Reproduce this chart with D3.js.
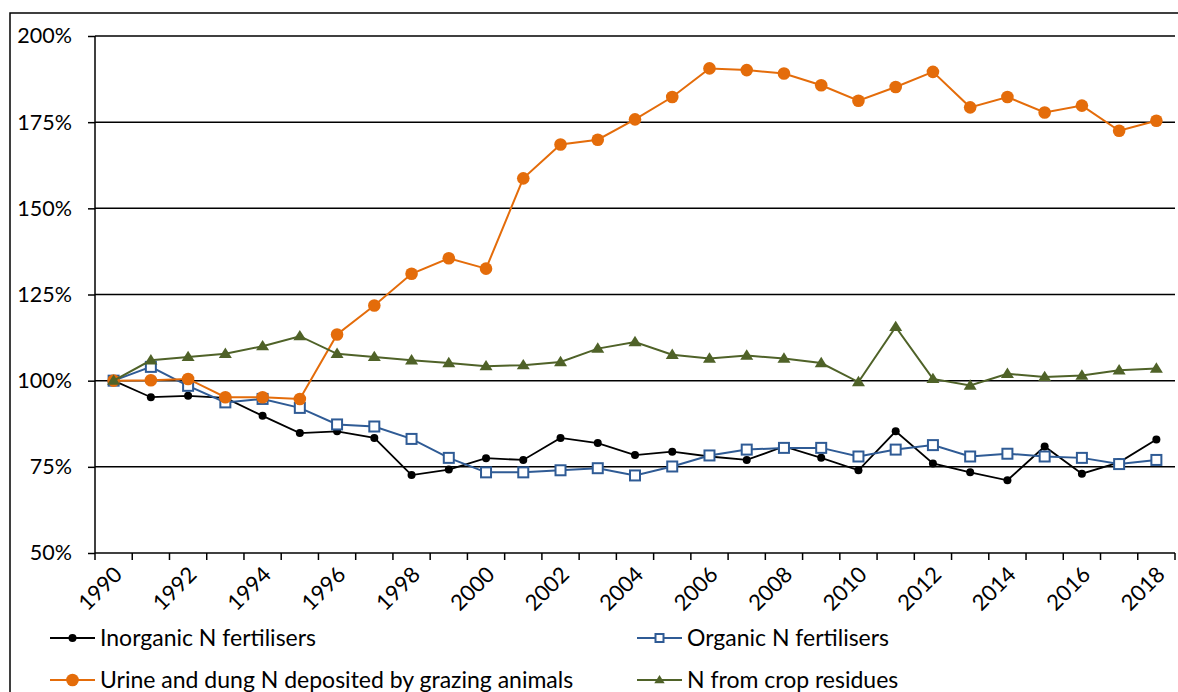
<!DOCTYPE html>
<html><head><meta charset="utf-8">
<script src="https://cdn.jsdelivr.net/npm/d3@7"></script>
<style>body{margin:0;background:#fff;overflow:hidden}svg{display:block}</style>
</head><body>
<svg id="chart" width="1178" height="692"></svg>
<script>
const years = d3.range(1990, 2019).map(String);
const yTicks = [50, 75, 100, 125, 150, 175, 200];
const xTickLabels = years.filter((d, i) => i % 2 === 0);
const seriesNames = ["Inorganic N fertilisers", "Organic N fertilisers", "Urine and dung N deposited by grazing animals", "N from crop residues"];
const inorganic = [100, 95.2, 95.6, 95.0, 89.8, 84.8, 85.3, 83.4, 72.6, 74.2, 77.5, 77.0, 83.4, 81.9, 78.4, 79.4, 78.0, 77.0, 80.9, 77.6, 74.0, 85.3, 76.0, 73.4, 71.1, 80.9, 73.0, 76.3, 82.9];
const organic = [100, 104.0, 98.5, 93.7, 94.7, 92.1, 87.3, 86.7, 83.1, 77.6, 73.4, 73.4, 74.0, 74.6, 72.5, 75.1, 78.3, 80.0, 80.5, 80.5, 78.0, 80.0, 81.3, 78.0, 78.8, 78.0, 77.6, 75.8, 77.0];
const urine = [100, 100.1, 100.5, 95.2, 95.2, 94.7, 113.4, 121.8, 131.0, 135.5, 132.5, 158.7, 168.5, 169.9, 175.8, 182.3, 190.6, 190.1, 189.1, 185.7, 181.2, 185.2, 189.6, 179.3, 182.3, 177.8, 179.8, 172.5, 175.4];
const residues = [100, 105.9, 106.9, 107.8, 110.0, 112.9, 107.8, 106.9, 105.9, 105.1, 104.2, 104.5, 105.4, 109.3, 111.2, 107.5, 106.4, 107.3, 106.4, 105.1, 99.6, 115.6, 100.5, 98.6, 102.0, 101.1, 101.5, 103.0, 103.5];

const FONT = "Lato, 'Open Sans', sans-serif";
const svg = d3.select("#chart");
const L = 95, R = 1175, T = 36, B = 553;

// outer border
svg.append("rect").attr("x", 10).attr("y", 13).attr("width", 1200).attr("height", 700)
  .attr("fill", "none").attr("stroke", "#000").attr("stroke-width", 1.5);

const x = d3.scaleBand().domain(years).range([L, R]).paddingInner(0).paddingOuter(0);
const cx = d => x(d) + x.bandwidth() / 2;
const y = d3.scaleLinear().domain([50, 200]).range([B, T]);

// gridlines
svg.append("g").selectAll("line").data(yTicks.filter(v => v > 50)).join("line")
  .attr("x1", L).attr("x2", R).attr("y1", d => y(d)).attr("y2", d => y(d))
  .attr("stroke", "#000").attr("stroke-width", 1.5);

// y axis
const yAxis = svg.append("g").attr("transform", `translate(${L},0)`)
  .call(d3.axisLeft(y).tickValues(yTicks).tickFormat(d => d + "%").tickSize(7).tickPadding(16));
yAxis.select(".domain").attr("stroke-width", 1.5).attr("d", `M0,${T}V${B}`);
yAxis.selectAll(".tick line").attr("stroke-width", 1.5);
yAxis.selectAll("text").attr("font-family", FONT).attr("font-size", 21.5).attr("fill", "#000");

// x axis: ticks at band boundaries
const xg = svg.append("g");
xg.append("line").attr("x1", L).attr("x2", R).attr("y1", B).attr("y2", B).attr("stroke", "#000").attr("stroke-width", 1.5);
xg.selectAll("line.tk").data(years.concat(["end"])).join("line").attr("class", "tk")
  .attr("x1", d => d === "end" ? R : x(d)).attr("x2", d => d === "end" ? R : x(d))
  .attr("y1", B).attr("y2", B + 7).attr("stroke", "#000").attr("stroke-width", 1.5);
xg.selectAll("text").data(xTickLabels).join("text")
  .attr("transform", d => `translate(${cx(d) - 1},${B + 12}) rotate(-45)`)
  .attr("text-anchor", "end").attr("dy", "0.7em")
  .attr("font-family", FONT).attr("font-size", 22).attr("fill", "#000")
  .text(d => d);

const series = [
  { name: seriesNames[0], values: inorganic, color: "#000000", marker: "circle", r: 4, width: 1.8 },
  { name: seriesNames[1], values: organic, color: "#2F5B95", marker: "square", r: 5, width: 2 },
  { name: seriesNames[2], values: urine, color: "#E46C0A", marker: "circle", r: 6.3, width: 2 },
  { name: seriesNames[3], values: residues, color: "#4F6228", marker: "triangle", r: 6.5, width: 2 }
];

const line = d3.line().x((d, i) => cx(years[i])).y(d => y(d));

function drawMarker(g, s, px, py, scale) {
  const r = s.r * (scale || 1);
  if (s.marker === "circle") {
    g.append("circle").attr("cx", px).attr("cy", py).attr("r", r).attr("fill", s.color);
  } else if (s.marker === "square") {
    g.append("rect").attr("x", px - r).attr("y", py - r).attr("width", 2 * r).attr("height", 2 * r)
      .attr("fill", "#fff").attr("stroke", s.color).attr("stroke-width", 2);
  } else {
    const h = r * 1.6;
    g.append("path").attr("d", `M${px},${py - h * 0.6}L${px + r},${py + h * 0.4}L${px - r},${py + h * 0.4}Z`)
      .attr("fill", s.color);
  }
}

series.forEach(s => {
  const g = svg.append("g");
  g.append("path").datum(s.values).attr("d", line).attr("fill", "none")
    .attr("stroke", s.color).attr("stroke-width", s.width);
  s.values.forEach((v, i) => drawMarker(g, s, cx(years[i]), y(v)));
});

// legend
const legendPos = [
  { x: 50, y: 638 }, { x: 637, y: 638 }, { x: 50, y: 680 }, { x: 637, y: 680 }
];
series.forEach((s, i) => {
  const p = legendPos[i];
  const g = svg.append("g");
  g.append("line").attr("x1", p.x).attr("x2", p.x + 45).attr("y1", p.y).attr("y2", p.y)
    .attr("stroke", s.color).attr("stroke-width", s.width);
  drawMarker(g, s, p.x + 22.5, p.y, s.marker === "circle" ? 1 : 0.8);
  g.append("text").attr("x", p.x + 50).attr("y", p.y).attr("dy", "0.35em")
    .attr("font-family", FONT).attr("font-size", 23).attr("fill", "#000").text(s.name);
});
</script>
</body></html>
